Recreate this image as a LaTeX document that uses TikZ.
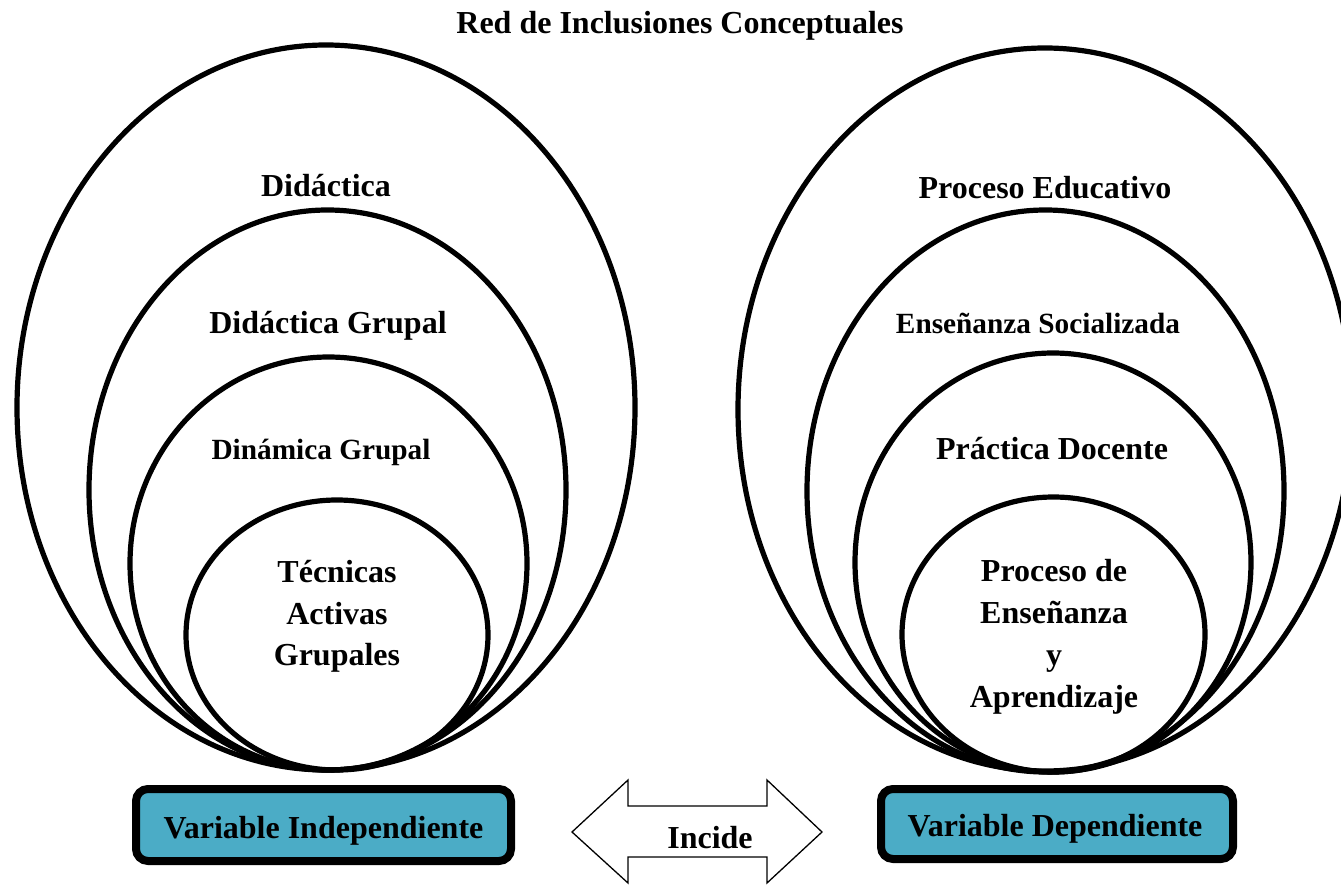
\documentclass[tikz,border=0pt]{standalone}
\usepackage{fontspec}
\setmainfont{Liberation Serif}
\definecolor{boxblue}{HTML}{4BACC6}
\begin{document}
\begin{tikzpicture}[x=1pt,y=-1pt,
  ring/.style={line width=5.2pt},
  big/.style={font=\fontsize{32}{42}\selectfont\bfseries, anchor=base, inner sep=0pt},
  small/.style={font=\fontsize{29.3}{42}\selectfont\bfseries, anchor=base, inner sep=0pt},
  varbox/.style={draw=black, line width=8pt, fill=boxblue, rounded corners=12pt, inner sep=0pt}]
\useasboundingbox (0,0) rectangle (1341,885);
\begin{scope}
\clip (0,0) rectangle (1341,885);
% left ellipses
\draw[ring] (326,407.5) ellipse [x radius=309, y radius=362.5];
\draw[ring] (327.5,490) ellipse [x radius=238.5, y radius=280];
\draw[ring] (328.5,563.5) ellipse [x radius=198.5, y radius=206.5];
\draw[ring] (337,635) ellipse [x radius=151, y radius=135];
% right ellipses
\draw[ring] (1045,409.5) ellipse [x radius=307, y radius=361.5];
\draw[ring] (1045.5,491) ellipse [x radius=238.5, y radius=281];
\draw[ring] (1053,562.5) ellipse [x radius=198, y radius=209.5];
\draw[ring] (1053.5,634.5) ellipse [x radius=151.5, y radius=137.5];
\end{scope}
% title
\node[big] (title) at (680,34) {Red de Inclusiones Conceptuales};
% left labels
\node[big] (l1) at (326,197) {Didáctica};
\node[big] (l2) at (328,334) {Didáctica Grupal};
\node[small] (l3) at (321,459) {Dinámica Grupal};
\node[big] (l4a) at (337,582) {Técnicas};
\node[big] (l4b) at (337,624) {Activas};
\node[big] (l4c) at (337,665) {Grupales};
% right labels
\node[big] (r1) at (1045,199) {Proceso Educativo};
\node[small] (r2) at (1038,334) {Enseñanza Socializada};
\node[big] (r3) at (1052,459) {Práctica Docente};
\node[big] (r4a) at (1054,581) {Proceso de};
\node[big] (r4b) at (1054,623) {Enseñanza};
\node[big] (r4c) at (1054,665) {y};
\node[big] (r4d) at (1054,707) {Aprendizaje};
% variable boxes
\node[varbox, minimum width=375pt, minimum height=72pt] (vi) at (323.5,825) {};
\node[big] (vit) at (323.5,838) {Variable Independiente};
\node[varbox, minimum width=352pt, minimum height=70pt] (vd) at (1057,824) {};
\node[big] (vdt) at (1055,836) {Variable Dependiente};
% double arrow
\draw[line width=1.3pt, line join=miter, fill=white]
  (572,832) -- (628,780) -- (628,806) -- (767,806) -- (767,780) -- (822,832)
  -- (767,883) -- (767,857) -- (628,857) -- (628,883) -- cycle;
\node[big] (inc) at (710,848) {Incide};
\end{tikzpicture}
\end{document}
